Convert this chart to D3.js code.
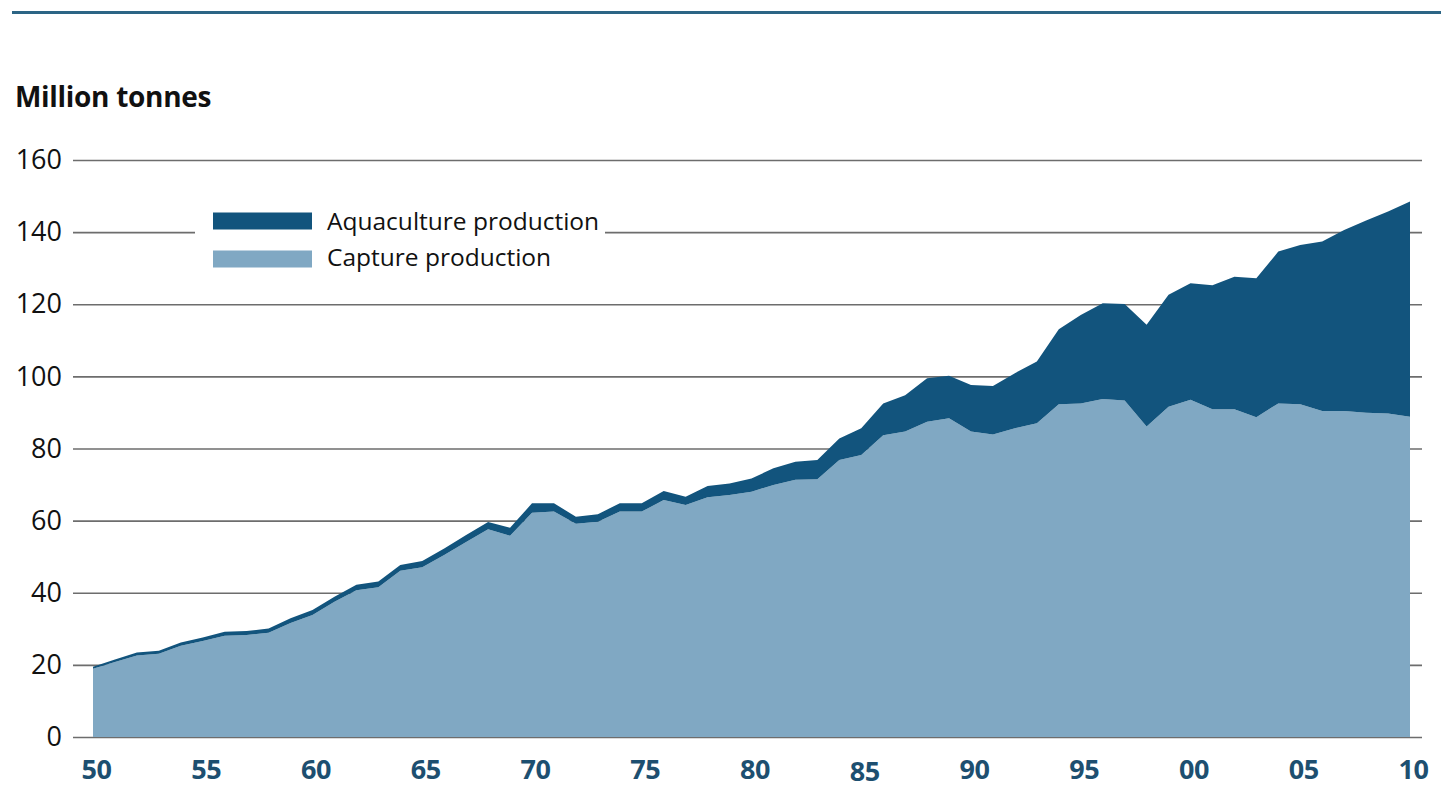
<!DOCTYPE html>
<html>
<head>
<meta charset="utf-8">
<script src="https://cdn.jsdelivr.net/npm/d3@7"></script>
<style>
  html, body { margin: 0; padding: 0; background: #ffffff; }
  svg { display: block; }
  text { font-family: "Open Sans", "Noto Sans", sans-serif; }
</style>
</head>
<body>
<svg id="chart" width="1441" height="788"></svg>
<script>
// ---- Data (million tonnes), years 1950–2010 ----
const years = d3.range(1950, 2011);
const capture = [
  18.9, 20.8, 22.6, 23.1, 25.3, 26.6, 28.1, 28.3, 28.9, 31.6,
  33.8, 37.5, 40.7, 41.5, 46.1, 47.1, 50.5, 54.1, 57.6, 55.8,
  62.2, 62.5, 59.1, 59.7, 62.5, 62.5, 65.7, 64.3, 66.5, 67.1,
  68.0, 69.9, 71.3, 71.5, 76.8, 78.2, 83.7, 84.7, 87.4, 88.4,
  84.7, 83.9, 85.6, 87.0, 92.3, 92.5, 93.7, 93.3, 86.1, 91.6,
  93.5, 90.9, 90.9, 88.7, 92.5, 92.3, 90.4, 90.4, 89.9, 89.7,
  88.8
];
const aquaculture = [
  0.6, 0.7, 0.8, 0.8, 0.9, 1.0, 1.1, 1.1, 1.2, 1.3,
  1.4, 1.4, 1.5, 1.6, 1.6, 1.7, 1.8, 1.9, 2.0, 2.2,
  2.6, 2.3, 2.0, 2.1, 2.3, 2.3, 2.5, 2.3, 3.1, 3.2,
  3.7, 4.6, 5.0, 5.3, 6.0, 7.4, 8.8, 10.1, 12.1, 11.8,
  12.9, 13.4, 15.3, 17.1, 20.8, 24.5, 26.6, 26.8, 28.2, 31.0,
  32.3, 34.4, 36.7, 38.5, 42.1, 44.1, 47.0, 50.2, 53.3, 56.0,
  59.7
];
const yTicks = [0, 20, 40, 60, 80, 100, 120, 140, 160];
const xTickYears = [1950, 1955, 1960, 1965, 1970, 1975, 1980, 1985, 1990, 1995, 2000, 2005, 2010];
const xTickLabels = ["50", "55", "60", "65", "70", "75", "80", "85", "90", "95", "00", "05", "10"];
const seriesNames = ["Capture production", "Aquaculture production"];
const unitLabel = "Million tonnes";

// ---- Styles ----
const colorCapture = "#80a8c3";
const colorAqua = "#12547d";
const axisBlue = "#1d4f70";

const svg = d3.select("#chart");

const x = d3.scaleLinear().domain([1950, 2010]).range([93, 1410]);
const y = d3.scaleLinear().domain([0, 160]).range([737, 160]);

const rows = years.map((yr, i) => ({ year: yr, capture: capture[i], aquaculture: aquaculture[i] }));
const stack = d3.stack().keys(["capture", "aquaculture"]);
const layers = stack(rows);

// top rule
svg.append("line")
  .attr("x1", 12).attr("x2", 1441).attr("y1", 12.5).attr("y2", 12.5)
  .attr("stroke", "#2c6585").attr("stroke-width", 3);

// unit label
svg.append("text")
  .attr("x", 15).attr("y", 107)
  .attr("font-size", 28).attr("font-weight", 700).attr("fill", "#111")
  .attr("letter-spacing", -0.3)
  .text(unitLabel);

// gridlines (y axis)
const yAxis = d3.axisLeft(y).tickValues(yTicks).tickSize(-(1422 - 73)).tickPadding(11);
const gy = svg.append("g").attr("transform", "translate(73,0)").call(yAxis);
gy.select(".domain").remove();
gy.selectAll(".tick line").attr("stroke", "#6d6d6d").attr("stroke-width", 1.6);
gy.selectAll(".tick text")
  .attr("font-size", 27).attr("fill", "#111")
  .attr("font-family", "'Open Sans', sans-serif");

// stacked areas
const area = d3.area()
  .x(d => x(d.data.year))
  .y0(d => y(d[0]))
  .y1(d => y(d[1]));

svg.append("g").selectAll("path")
  .data(layers)
  .join("path")
  .attr("d", area)
  .attr("fill", (d, i) => i === 0 ? colorCapture : colorAqua);

// x axis labels
const xAxis = d3.axisBottom(x).tickValues(xTickYears)
  .tickFormat((d, i) => xTickLabels[i]).tickSize(0).tickPadding(0);
const gx = svg.append("g").attr("transform", "translate(3,779)").call(xAxis);
gx.select(".domain").remove();
gx.selectAll(".tick text")
  .attr("font-size", 27).attr("font-weight", 700).attr("fill", axisBlue)
  .attr("font-family", "'Open Sans', sans-serif")
  .attr("letter-spacing", -0.5)
  .attr("y", 0)
  .attr("dy", (d) => d === 1985 ? 1.5 : 0);

// legend
const lg = svg.append("g");
lg.append("rect").attr("x", 195).attr("y", 205).attr("width", 410).attr("height", 70).attr("fill", "#fff");
const legendItems = [
  { name: seriesNames[1], color: colorAqua, y: 212.5, ty: 230 },
  { name: seriesNames[0], color: colorCapture, y: 250.5, ty: 266 }
];
legendItems.forEach(it => {
  lg.append("rect").attr("x", 213).attr("y", it.y).attr("width", 99).attr("height", 17).attr("fill", it.color);
  lg.append("text").attr("x", 327).attr("y", it.ty)
    .attr("font-size", 24.5).attr("fill", "#111").text(it.name);
});
</script>
</body>
</html>
